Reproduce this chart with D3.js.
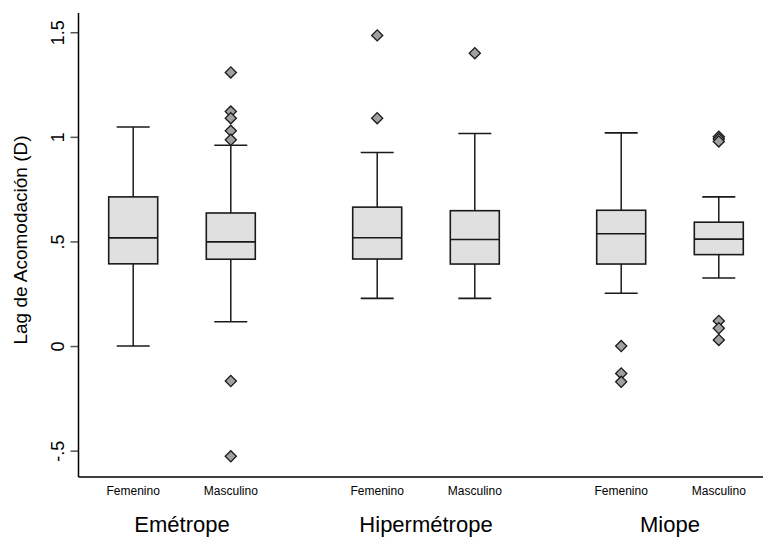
<!DOCTYPE html>
<html lang="es">
<head>
<meta charset="UTF-8">
<title>Lag de Acomodación</title>
<script src="https://cdn.jsdelivr.net/npm/d3@7"></script>
<style>
  body { margin: 0; background: #fff; }
  svg text { font-family: "Liberation Sans", Arial, sans-serif; fill: #000; }
</style>
</head>
<body>
<svg id="chart" width="763" height="538"></svg>
<script>
// ---- data ----
var groups = ["Emétrope", "Hipermétrope", "Miope"];
var sexes = ["Femenino", "Masculino"];

// one entry per box, order: group x sex
var boxGroup  = ["Emétrope", "Emétrope", "Hipermétrope", "Hipermétrope", "Miope", "Miope"];
var boxSex    = ["Femenino", "Masculino", "Femenino", "Masculino", "Femenino", "Masculino"];
var whiskLow  = [0.00, 0.116, 0.228, 0.228, 0.252, 0.325];
var q1        = [0.393, 0.415, 0.416, 0.392, 0.392, 0.437];
var median    = [0.517, 0.498, 0.518, 0.509, 0.537, 0.511];
var q3        = [0.713, 0.636, 0.664, 0.647, 0.649, 0.592];
var whiskHigh = [1.047, 0.960, 0.925, 1.016, 1.019, 0.713];
var outliers  = [
  [],
  [1.308, 1.121, 1.089, 1.029, 0.986, -0.167, -0.527],
  [1.485, 1.089],
  [1.400],
  [0.0, -0.131, -0.171],
  [1.0, 0.99, 0.978, 0.12, 0.085, 0.029]
];

var yTicks = [-0.5, 0, 0.5, 1, 1.5];
var yTickLabels = ["-.5", "0", ".5", "1", "1.5"];

var boxes = boxGroup.map(function (g, i) {
  return { group: g, sex: boxSex[i], lo: whiskLow[i], q1: q1[i], med: median[i],
           q3: q3[i], hi: whiskHigh[i], out: outliers[i] };
});

// ---- layout ----
var svg = d3.select("#chart");
var plotL = 78.5, plotR = 763, plotT = 13, plotB = 477;
var boxW = 49, capW = 33;
var ink = "#1a1a1a";

var y = d3.scaleLinear().domain([-0.626, 1.592]).range([plotB, plotT]);
var xg = d3.scalePoint().domain(groups).range([182, 670]);
var xs = d3.scalePoint().domain(sexes).range([-48.8, 48.8]);
function cx(d) { return xg(d.group) + xs(d.sex); }

// y axis
var yAxis = d3.axisLeft(y)
  .tickValues(yTicks)
  .tickSize(8)
  .tickFormat(function (d, i) { return yTickLabels[i]; });

var ya = svg.append("g")
  .attr("transform", "translate(" + plotL + ",0)")
  .call(yAxis);
ya.select(".domain").remove();
ya.selectAll(".tick line").attr("stroke", "#555").attr("stroke-width", 1.5);
ya.selectAll(".tick text")
  .attr("x", null).attr("dy", null)
  .attr("text-anchor", "middle")
  .attr("transform", "translate(-15,0) rotate(-90)")
  .style("font-size", "18px")
  .style("font-family", "Liberation Sans, Arial, sans-serif");

// axis lines
svg.append("line").attr("x1", plotL).attr("x2", plotL).attr("y1", plotT).attr("y2", plotB)
  .attr("stroke", "#000").attr("stroke-width", 1.5);
svg.append("line").attr("x1", plotL).attr("x2", plotR).attr("y1", plotB).attr("y2", plotB)
  .attr("stroke", "#000").attr("stroke-width", 1.5);

// y title
svg.append("text")
  .attr("transform", "translate(27," + ((plotT + plotB) / 2 - 5) + ") rotate(-90)")
  .attr("text-anchor", "middle")
  .style("font-size", "19px")
  .text("Lag de Acomodación (D)");

// boxes
var b = svg.append("g").selectAll("g").data(boxes).enter().append("g");

b.append("line") // whisker
  .attr("x1", cx).attr("x2", cx)
  .attr("y1", function (d) { return y(d.lo); })
  .attr("y2", function (d) { return y(d.hi); })
  .attr("stroke", ink).attr("stroke-width", 1.5);

b.append("rect")
  .attr("x", function (d) { return cx(d) - boxW / 2; })
  .attr("width", boxW)
  .attr("y", function (d) { return y(d.q3); })
  .attr("height", function (d) { return y(d.q1) - y(d.q3); })
  .attr("fill", "#e0e0e0").attr("stroke", ink).attr("stroke-width", 1.6);

b.append("line") // median
  .attr("x1", function (d) { return cx(d) - boxW / 2; })
  .attr("x2", function (d) { return cx(d) + boxW / 2; })
  .attr("y1", function (d) { return y(d.med); })
  .attr("y2", function (d) { return y(d.med); })
  .attr("stroke", ink).attr("stroke-width", 1.6);

["lo", "hi"].forEach(function (k) {
  b.append("line") // caps
    .attr("x1", function (d) { return cx(d) - capW / 2; })
    .attr("x2", function (d) { return cx(d) + capW / 2; })
    .attr("y1", function (d) { return y(d[k]); })
    .attr("y2", function (d) { return y(d[k]); })
    .attr("stroke", ink).attr("stroke-width", 1.6);
});

// outliers as diamonds
var diamond = d3.symbol().type(d3.symbolSquare).size(62);
b.each(function (d) {
  d3.select(this).selectAll("path").data(d.out).enter().append("path")
    .attr("d", diamond)
    .attr("transform", function (v) { return "translate(" + cx(d) + "," + y(v) + ") rotate(45)"; })
    .attr("fill", "#a0a0a0").attr("stroke", ink).attr("stroke-width", 1.3);
});

// category labels
svg.append("g").selectAll("text").data(boxes).enter().append("text")
  .attr("x", cx).attr("y", 495)
  .attr("text-anchor", "middle")
  .style("font-size", "12px")
  .text(function (d) { return d.sex; });

svg.append("g").selectAll("text").data(groups).enter().append("text")
  .attr("x", function (g) { return xg(g); }).attr("y", 532)
  .attr("text-anchor", "middle")
  .style("font-size", "22px")
  .text(function (g) { return g; });
</script>
</body>
</html>
